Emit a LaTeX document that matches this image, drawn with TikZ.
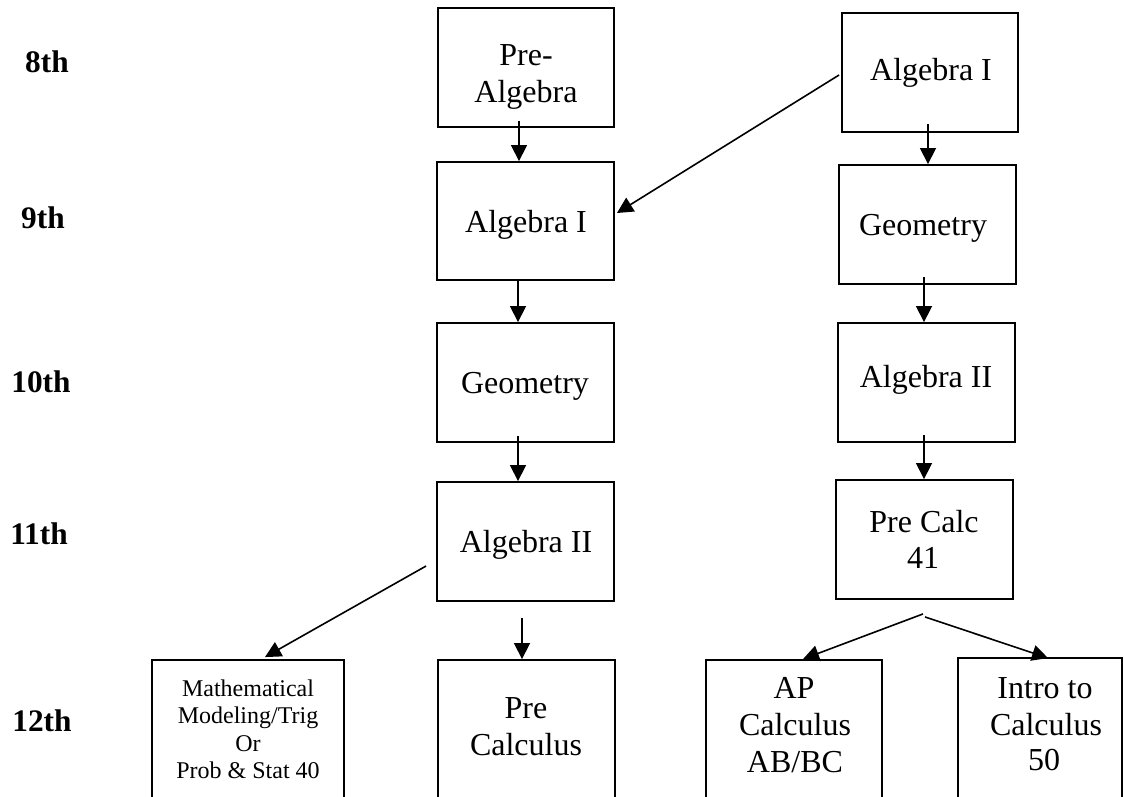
\documentclass[tikz,border=0pt]{standalone}
\usepackage{fontspec}
\setmainfont{Liberation Serif}
\usetikzlibrary{arrows.meta,calc,fit}
\begin{document}
\begin{tikzpicture}[x=0.75pt,y=-0.75pt,
  box/.style={draw=black,line width=1.4pt,inner sep=0pt,rectangle},
  big/.style={anchor=base,inner sep=0pt,font=\fontsize{24pt}{27pt}\selectfont},
  small/.style={anchor=base,inner sep=0pt,font=\fontsize{18pt}{21pt}\selectfont},
  grade/.style={anchor=base,inner sep=0pt,font=\fontsize{23.5pt}{27pt}\selectfont\bfseries},
  arr/.style={line width=1.2pt,-{Triangle[length=12pt,width=12pt]}}]
\clip (0,0) rectangle (1124,796);
\fill[white] (0,0) rectangle (1124,796);

% grade labels
\node[grade] (g8) at (47,72) {8th};
\node[grade] (g9) at (43,228) {9th};
\node[grade] (g10) at (41,392) {10th};
\node[grade] (g11) at (39,544) {11th};
\node[grade] (g12) at (42,731) {12th};

% boxes
\node[box,fit={(438,8) (614,127)}] (prealg) {};
\node[box,fit={(437,162) (614,280)}] (alglft) {};
\node[box,fit={(437,323) (614,442)}] (geolft) {};
\node[box,fit={(437,482) (614,601)}] (algtwol) {};
\node[box,fit={(438,660) (615,820)}] (precalcl) {};
\node[box,fit={(152,660) (344,820)}] (mathmod) {};
\node[box,fit={(842,13) (1018,132)}] (algrgt) {};
\node[box,fit={(839,165) (1016,284)}] (georgt) {};
\node[box,fit={(838,323) (1015,442)}] (algtwor) {};
\node[box,fit={(836,480) (1013,599)}] (precalcft) {};
\node[box,fit={(706,660) (882,820)}] (apcalc) {};
\node[box,fit={(958,658) (1122,820)}] (intro) {};

% texts
\node[big] (t1a) at (526,65) {Pre-};
\node[big] (t1b) at (526,102) {Algebra};
\node[big] (t2) at (526,232) {Algebra I};
\node[big] (t3) at (525,393) {Geometry};
\node[big] (t4) at (526,552) {Algebra II};
\node[big] (t5a) at (526,718) {Pre};
\node[big] (t5b) at (526,755) {Calculus};
\node[small] (t6a) at (248,696) {Mathematical};
\node[small] (t6b) at (248,723) {Modeling/Trig};
\node[small] (t6c) at (248,751) {Or};
\node[small] (t6d) at (248,778) {Prob \& Stat 40};
\node[big] (t7) at (931,80) {Algebra I};
\node[big] (t8) at (923,235) {Geometry};
\node[big] (t9) at (926,387) {Algebra II};
\node[big] (t10a) at (924,532) {Pre Calc};
\node[big] (t10b) at (923,568) {41};
\node[big] (t11a) at (794,698) {AP};
\node[big] (t11b) at (795,735) {Calculus};
\node[big] (t11c) at (795,772) {AB/BC};
\node[big] (t12a) at (1045,698) {Intro to};
\node[big] (t12b) at (1046,735) {Calculus};
\node[big] (t12c) at (1044,770) {50};

% connectors
\draw[arr] ($(prealg.south)+(-7,-7)$) -- ($(alglft.north)+(-6.5,0)$);
\draw[arr] ($(algrgt.west)+(-2,2.5)$) -- ($(alglft.east)+(2,-8)$);
\draw[arr] ($(alglft.south)+(-7.5,0)$) -- ($(geolft.north)+(-7.5,0)$);
\draw[arr] ($(geolft.south)+(-7.5,-7)$) -- ($(algtwol.north)+(-7.5,0)$);
\draw[arr] ($(algtwol.south)+(-3.5,16)$) -- ($(precalcl.north)+(-4.5,0)$);
\draw[arr] ($(algtwol.west)+(-10,24.5)$) -- ($(mathmod.north)+(17,-2)$);
\draw[arr] ($(algrgt.south)+(-2,-9)$) -- ($(georgt.north)+(0.5,0)$);
\draw[arr] ($(georgt.south)+(-3.5,-8)$) -- ($(algtwor.north)+(-2.5,0)$);
\draw[arr] ($(algtwor.south)+(-2.5,-8)$) -- ($(precalcft.north)+(-0.5,0)$);
\draw[arr] ($(precalcft.south)+(-1.5,14)$) -- ($(apcalc.north)+(9,0)$);
\draw[arr] ($(precalcft.south)+(0.5,17)$) -- ($(intro.north)+(8,1)$);
\end{tikzpicture}
\end{document}
